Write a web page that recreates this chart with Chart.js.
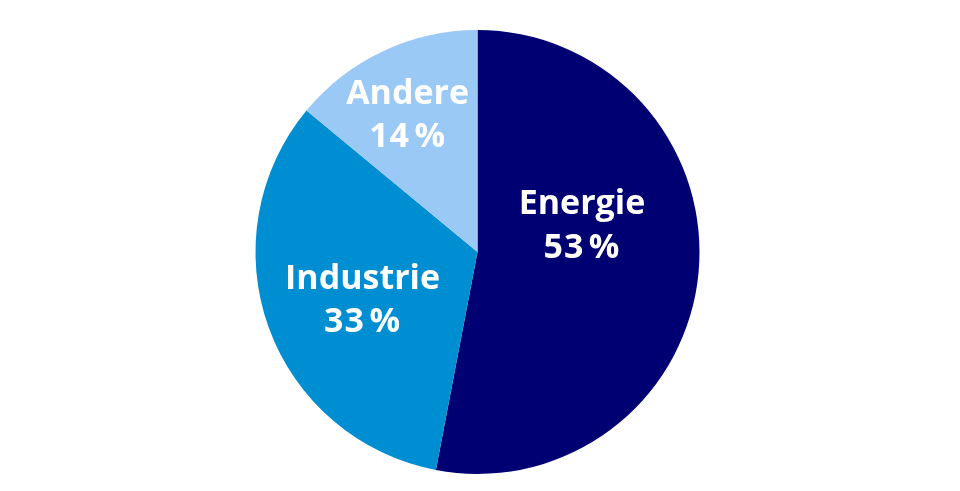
<!DOCTYPE html>
<html>
<head>
<meta charset="utf-8">
<script src="https://cdn.jsdelivr.net/npm/chart.js@4"></script>
<style>
  html, body { margin: 0; padding: 0; background: #ffffff; }
  #wrap { width: 960px; height: 491px; }
</style>
</head>
<body>
<div id="wrap"><canvas id="c" width="960" height="491"></canvas></div>
<script>
const categories = ["Energie", "Industrie", "Andere"];
const shares = [53, 33, 14];
const sliceColors = ["#000072", "#008ED3", "#9AC9F5"];

// label placement: angle clockwise from 12 o'clock (deg), distance as fraction of radius
const labelPlacement = [
  { angle: 76.0, frac: 0.485 },
  { angle: 247.1, frac: 0.562 },
  { angle: 332.9, frac: 0.691 }
];

const labelPlugin = {
  id: 'sliceLabels',
  afterDatasetsDraw(chart) {
    const ctx = chart.ctx;
    const meta = chart.getDatasetMeta(0);
    ctx.save();
    ctx.fillStyle = '#ffffff';
    ctx.textAlign = 'center';
    ctx.textBaseline = 'middle';
    ctx.font = 'bold 34px "Open Sans", sans-serif';
    meta.data.forEach((arc, i) => {
      const p = labelPlacement[i];
      const a = p.angle * Math.PI / 180;
      const r = arc.outerRadius * p.frac;
      const x = arc.x + Math.sin(a) * r;
      const y = arc.y - Math.cos(a) * r;
      ctx.letterSpacing = '0px';
      ctx.fillText(categories[i], x, y - 21.5);
      ctx.letterSpacing = '1px';
      ctx.fillText(shares[i] + '\u200A%', x, y + 22);
    });
    ctx.restore();
  }
};

new Chart(document.getElementById('c'), {
  type: 'pie',
  data: {
    labels: categories,
    datasets: [{
      data: shares,
      backgroundColor: sliceColors,
      borderWidth: 0
    }]
  },
  options: {
    responsive: false,
    animation: false,
    layout: { padding: { left: 0, right: 5, top: 30, bottom: 17 } },
    plugins: {
      legend: { display: false },
      tooltip: { enabled: false }
    }
  },
  plugins: [labelPlugin]
});
</script>
</body>
</html>
